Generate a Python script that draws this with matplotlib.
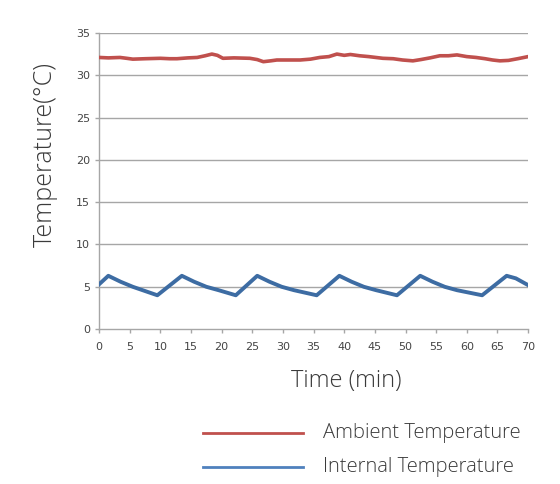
import numpy as np
import matplotlib.pyplot as plt

# ambient temperature readings (min, degC)
amb_t = [0, 1.5, 3.4, 4.5, 5.5, 7.5, 10, 11.5, 12.7, 14.5, 16, 17.3, 18.4, 19.3, 20.2, 22, 24.6, 25.8, 26.8, 28, 29, 31, 32.8,
         34.5, 36, 37.5, 38.8, 40, 41, 42.5, 44, 46.3, 48, 49.5, 51.2, 52.5, 54, 55.6, 57, 58.4, 60, 61.5, 63, 64.2, 65.4,
         66.8, 68.3, 70]
amb_v = [32.1, 32.05, 32.1, 32.0, 31.9, 31.95, 32.0, 31.95, 31.95, 32.05, 32.1, 32.3, 32.5, 32.35, 32.0, 32.05, 32.0, 31.85, 31.6,
         31.7, 31.8, 31.8, 31.8, 31.9, 32.1, 32.2, 32.5, 32.35, 32.45, 32.3, 32.2, 32.0, 31.95, 31.8, 31.7, 31.85, 32.05,
         32.3, 32.3, 32.4, 32.2, 32.1, 31.95, 31.8, 31.7, 31.75, 31.95, 32.2]

# internal temperature readings (min, degC)
int_t = [0, 1.5, 3.5, 5.5, 7.5, 9.5, 13.5, 15.5, 17.5, 19.5, 22.3, 25.8, 27.8, 29.8, 31.8, 35.5, 39.2, 41.2, 43.2, 45.2,
         48.6, 52.4, 54.4, 56.4, 58.4, 62.5, 66.5, 68, 70]
int_v = [5.3, 6.3, 5.6, 5.0, 4.5, 4.0, 6.3, 5.6, 5.0, 4.6, 4.0, 6.3, 5.6, 5.0, 4.6, 4.0, 6.3, 5.6, 5.0, 4.6,
         4.0, 6.3, 5.6, 5.0, 4.6, 4.0, 6.3, 6.0, 5.2]

xticks = list(range(0, 75, 5))
yticks = list(range(0, 40, 5))

label_font = dict(family=['Open Sans', 'DejaVu Sans'], fontweight='light', color='#3a3a3a')

fig = plt.figure(figsize=(5.6, 4.84), dpi=100)
ax = fig.add_axes([0.177, 0.320, 0.766, 0.612])

for y in yticks[1:]:
    ax.axhline(y, color='#a6a6a6', lw=1.0, zorder=1)

ax.plot(amb_t, amb_v, color='#c0504d', lw=2.6, zorder=3)
ax.plot(int_t, int_v, color='#3d6ca3', lw=2.8, zorder=3)

ax.set_xlim(0, 70)
ax.set_ylim(0, 35)
ax.set_xticks(xticks)
ax.set_yticks(yticks)
ax.tick_params(axis='both', colors='#a6a6a6', labelcolor='#444444', labelsize=8, length=3, width=1)
ax.tick_params(axis='x', pad=6)
for s in ['top', 'right']:
    ax.spines[s].set_visible(False)
for s in ['left', 'bottom']:
    ax.spines[s].set_color('#a6a6a6')
    ax.spines[s].set_linewidth(1.0)

ax.set_ylabel('Temperature(°C)', fontsize=18, **label_font)
ax.set_xlabel('Time (min)', fontsize=17, **label_font)
ax.yaxis.set_label_coords(-0.097, 0.588)
ax.xaxis.set_label_coords(0.576, -0.135)

# legend drawn below the axes
fig.lines.append(plt.Line2D([0.362, 0.541], [1 - 433 / 484] * 2, color='#c0504d', lw=2, transform=fig.transFigure))
fig.lines.append(plt.Line2D([0.362, 0.541], [1 - 467 / 484] * 2, color='#4f81bd', lw=2, transform=fig.transFigure))
fig.text(0.577, 1 - 433 / 484, 'Ambient Temperature', fontsize=14.5, va='center', **label_font)
fig.text(0.577, 1 - 467 / 484, 'Internal Temperature', fontsize=14.5, va='center', **label_font)

fig.savefig('out.png', dpi=100)
